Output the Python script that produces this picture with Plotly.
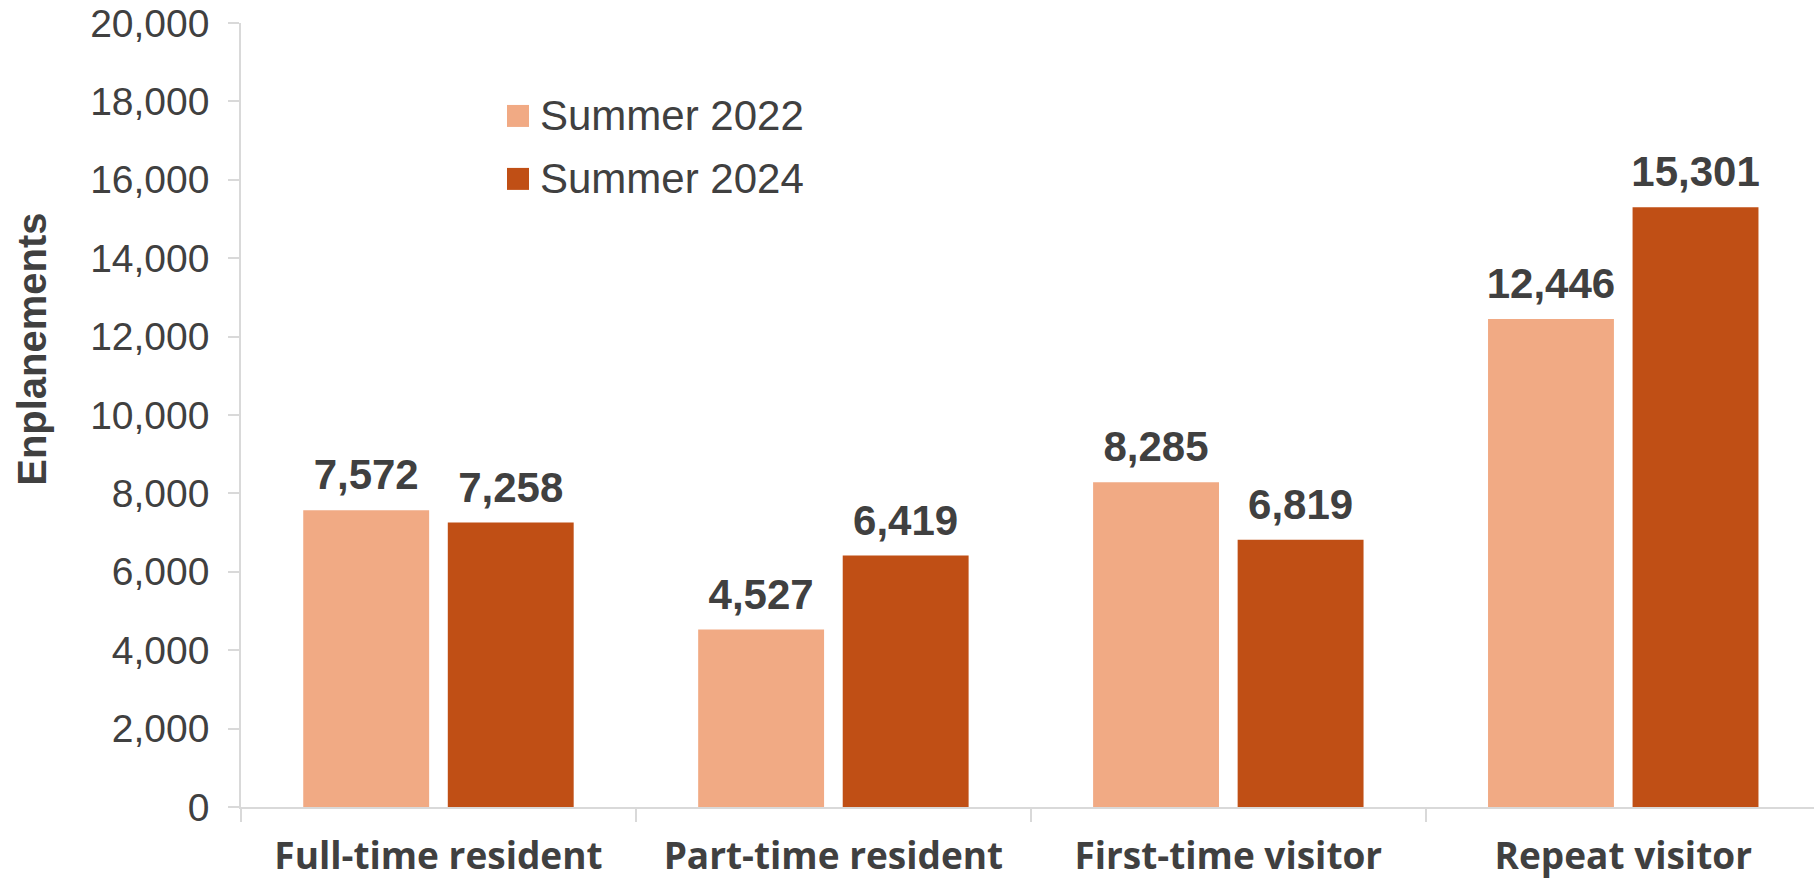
import plotly.graph_objects as go

categories = ["Full-time resident", "Part-time resident", "First-time visitor", "Repeat visitor"]
series_names = ["Summer 2022", "Summer 2024"]
summer_2022 = [7572, 4527, 8285, 12446]
summer_2024 = [7258, 6419, 6819, 15301]
colors = ["#F1AA84", "#C04F15"]
y_ticks = list(range(0, 20001, 2000))

W, H = 1814, 883
ML, MR, MT = 241, 0, 23
PH = 784.5
MB = H - MT - PH
PW = W - ML - MR

def px_x(p):  # screen px -> paper
    return (p - ML) / PW

def px_y(p):
    return (MT + PH - p) / PH

fig = go.Figure()
for name, vals, col in zip(series_names, [summer_2022, summer_2024], colors):
    fig.add_trace(go.Bar(
        x=categories, y=vals, name=name, marker=dict(color=col, line=dict(width=0)),
        offsetgroup=name, alignmentgroup="a", showlegend=False,
    ))
    fig.add_trace(go.Scatter(
        x=categories, y=vals, mode="markers+text", offsetgroup=name, alignmentgroup="a",
        marker=dict(size=15, opacity=0), texttemplate="%{y:,}", textposition="top center",
        textfont=dict(family="Liberation Sans, Arial", size=42, color="#404040", weight="bold"),
        showlegend=False, hoverinfo="skip", cliponaxis=False,
    ))

shapes = []
annotations = []
row_y = [116, 179]
for name, col, ry in zip(series_names, colors, row_y):
    shapes.append(dict(type="rect", xref="paper", yref="paper",
                       x0=px_x(507), x1=px_x(529), y0=px_y(ry + 11), y1=px_y(ry - 11),
                       fillcolor=col, line=dict(width=0)))
    annotations.append(dict(xref="paper", yref="paper", x=px_x(538), y=px_y(ry),
                            xanchor="left", yanchor="middle", text=name, showarrow=False,
                            font=dict(family="Liberation Sans, Arial", size=42, color="#404040")))

annotations.append(dict(xref="paper", yref="paper", x=px_x(32), y=px_y(350),
                        xanchor="center", yanchor="middle", text="<b>Enplanements</b>", textangle=-90,
                        showarrow=False,
                        font=dict(family="Liberation Sans, Arial", size=40, color="#404040")))

fig.update_layout(
    width=W, height=H,
    margin=dict(l=ML, r=MR, t=MT, b=MB, pad=0),
    paper_bgcolor="white", plot_bgcolor="white",
    barmode="group", bargap=0.268, bargroupgap=0.129,
    scattermode="group", scattergap=0.268,
    shapes=shapes, annotations=annotations,
    showlegend=False,
    xaxis=dict(
        type="category", range=[-0.5, 3.483], showgrid=False, automargin=False,
        showline=True, linecolor="#d9d9d9", linewidth=1.5,
        ticks="outside", tickson="boundaries", ticklen=13, tickcolor="#d9d9d9", tickwidth=1.5,
        tickfont=dict(family="Open Sans, Arial", size=37, color="#404040", weight="bold"),
        ticklabelstandoff=16,
    ),
    yaxis=dict(
        range=[0, 20000], tickvals=y_ticks, tickformat=",", showgrid=False, zeroline=False,
        automargin=False, ticklabeloverflow="allow",
        showline=True, linecolor="#d9d9d9", linewidth=1.5,
        ticks="outside", ticklen=11, tickcolor="#d9d9d9", tickwidth=1.5,
        tickfont=dict(family="Liberation Sans, Arial", size=39, color="#404040"),
        ticklabelstandoff=11,
    ),
)

fig.write_html("out.html", config={"displayModeBar": False},
               post_script="document.body.style.margin='0';document.body.style.overflow='hidden';")
